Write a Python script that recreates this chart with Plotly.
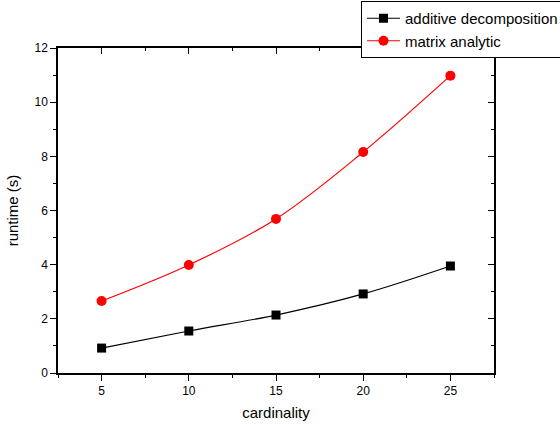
import plotly.graph_objects as go

cardinality = [5, 10, 15, 20, 25]
additive = [0.92, 1.55, 2.14, 2.92, 3.95]
matrix = [2.66, 3.99, 5.69, 8.16, 10.98]

x_ticks = [5, 10, 15, 20, 25]
y_ticks = [0, 2, 4, 6, 8, 10, 12]

font = "Liberation Sans, Arial, sans-serif"

fig = go.Figure()
fig.add_trace(go.Scatter(x=cardinality, y=additive, mode="lines+markers",
                         name="additive decomposition", line=dict(color="black", width=1.2, shape="spline"),
                         marker=dict(symbol="square", size=9, color="black")))
fig.add_trace(go.Scatter(x=cardinality, y=matrix, mode="lines+markers",
                         name="matrix analytic", line=dict(color="red", width=1.2, shape="spline"),
                         marker=dict(symbol="circle", size=10, color="red")))
# invisible trace to activate the mirrored top/right axes
fig.add_trace(go.Scatter(x=[None], y=[None], xaxis="x2", yaxis="y2", showlegend=False,
                         hoverinfo="skip", mode="markers"))

def minor(ticks, dtick, tick0):
    return dict(ticklen=3, tickcolor="black", tickwidth=1, ticks=ticks, dtick=dtick, tick0=tick0)

axcommon = dict(showgrid=False, zeroline=False, showline=True, linecolor="black", linewidth=1.5,
                ticklen=6, tickcolor="black", tickwidth=1)

fig.update_layout(
    width=560, height=426,
    margin=dict(l=58, r=66, t=48, b=53, autoexpand=False),
    paper_bgcolor="white", plot_bgcolor="white",
    font=dict(family=font, size=12, color="black"),
    showlegend=True,
    legend=dict(x=(361 - 58) / 436, y=(373 - 1) / 325, xanchor="left", yanchor="top",
                bordercolor="black", borderwidth=1, bgcolor="white",
                font=dict(size=15, family=font), itemwidth=33, tracegroupgap=0),
    xaxis=dict(range=[2.5, 27.5], tickvals=x_ticks, ticks="outside",
               title=dict(text="cardinality", font=dict(size=15), standoff=10),
               minor=minor("outside", 2.5, 2.5), **axcommon),
    yaxis=dict(range=[0, 12], tickvals=y_ticks, ticks="outside",
               title=dict(text="runtime (s)", font=dict(size=15), standoff=12),
               minor=minor("outside", 1, 1), **axcommon),
    xaxis2=dict(range=[2.5, 27.5], overlaying="x", side="top", tickvals=x_ticks, ticks="inside",
                showticklabels=False, minor=minor("inside", 2.5, 2.5), **axcommon),
    yaxis2=dict(range=[0, 12], overlaying="y", side="right", tickvals=y_ticks, ticks="inside",
                showticklabels=False, minor=minor("inside", 1, 1), **axcommon),
)

fig.write_html("out.html")
